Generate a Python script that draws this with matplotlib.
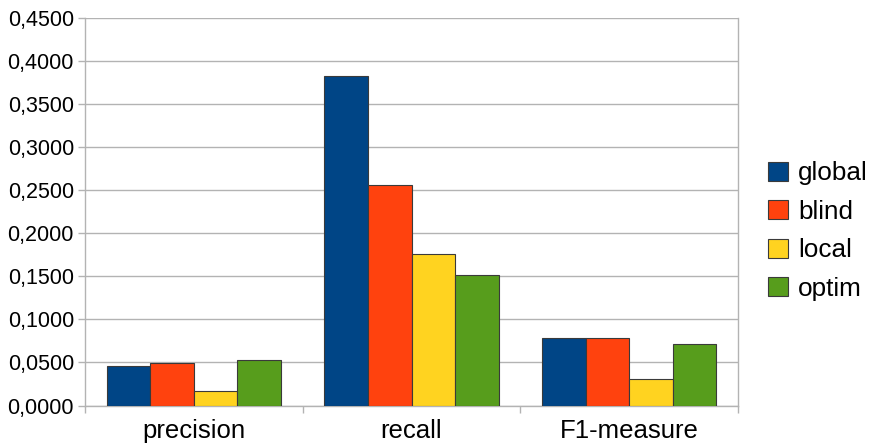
import matplotlib.pyplot as plt
import numpy as np
from matplotlib.ticker import FuncFormatter, MultipleLocator

plt.rcParams['font.family'] = ['Liberation Sans', 'DejaVu Sans']

categories = ["precision", "recall", "F1-measure"]
series = ["global", "blind", "local", "optim"]
global_vals = [0.0453, 0.3826, 0.0783]
blind_vals = [0.0488, 0.2566, 0.0783]
local_vals = [0.0174, 0.1764, 0.0310]
optim_vals = [0.0523, 0.1512, 0.0709]
colors = ["#004586", "#ff420e", "#ffd320", "#579d1c"]

values = [global_vals, blind_vals, local_vals, optim_vals]

fig = plt.figure(figsize=(8.71, 4.44), dpi=100)
ax = fig.add_axes([85 / 871, 1 - 405.5 / 444, (738 - 85) / 871, (405.5 - 18) / 444])

x = np.arange(len(categories))
width = 0.2
for i, (name, vals) in enumerate(zip(series, values)):
    ax.bar(x + (i - 1.5) * width, vals, width, color=colors[i], label=name,
           edgecolor="#3a3a3a", linewidth=0.8, zorder=3)

grid_col = "#b3b3b3"
ax.set_ylim(0, 0.45)
ax.set_xlim(-0.5, 2.5)
ax.yaxis.set_major_locator(MultipleLocator(0.05))
ax.yaxis.set_major_formatter(FuncFormatter(lambda v, p: f"{v:.4f}".replace(".", ",")))
ax.yaxis.grid(True, color=grid_col, linewidth=1.0, zorder=0)
ax.set_xticks(x)
ax.set_xticklabels(categories)
ax.set_xticks([-0.5, 0.5, 1.5, 2.5], minor=True)
ax.tick_params(axis="x", which="major", length=0, pad=10, labelsize=18.5)
ax.tick_params(axis="x", which="minor", length=5, color=grid_col, width=1)
ax.tick_params(axis="y", length=5, color=grid_col, width=1, pad=3, labelsize=15.5)
for s in ax.spines.values():
    s.set_color(grid_col)
    s.set_linewidth(1.0)
ax.spines["top"].set_visible(False)

fig.legend(loc="center left", bbox_to_anchor=(768 / 871, 1 - 231 / 444),
           frameon=False, fontsize=18.8, handlelength=0.75, handleheight=0.75,
           handletextpad=0.4, labelspacing=0.55, borderpad=0, borderaxespad=0)

fig.savefig("out.png", dpi=100)
